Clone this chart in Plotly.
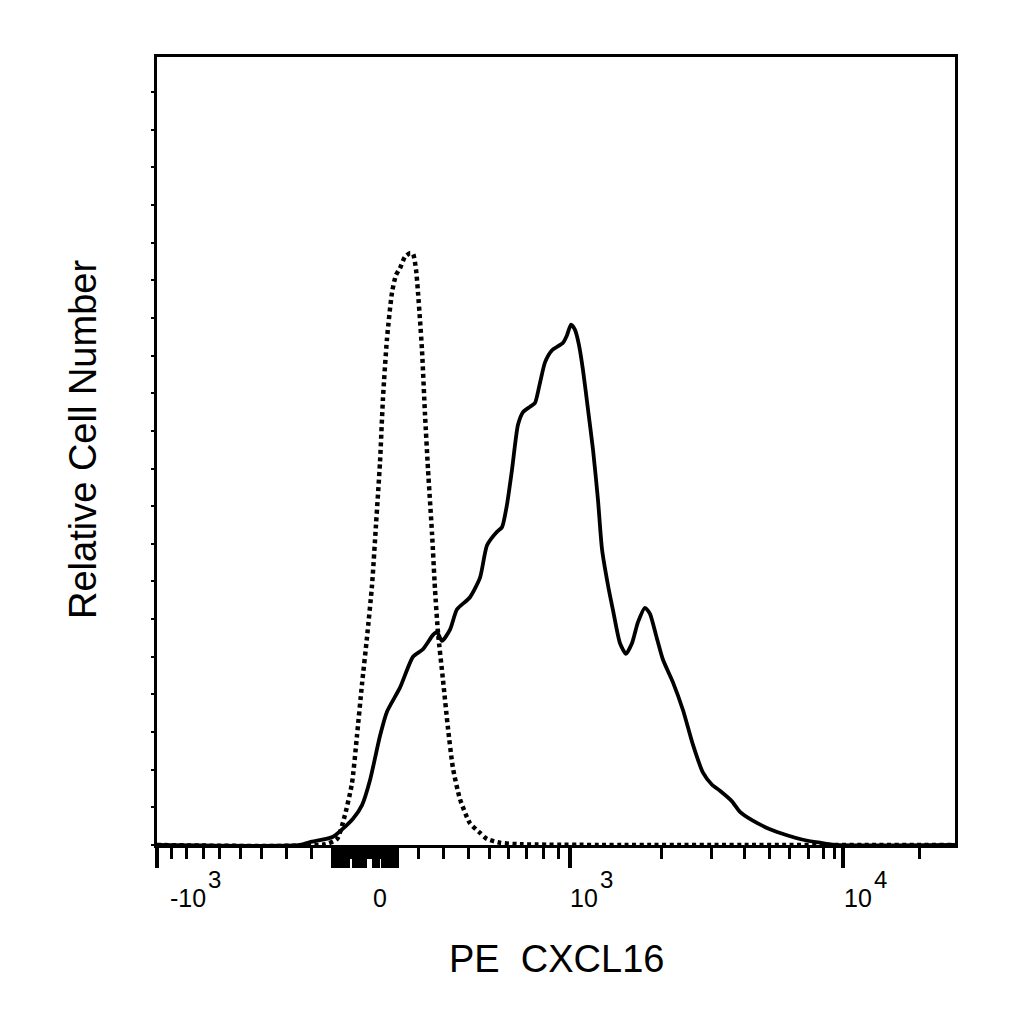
import plotly.graph_objects as go

# x is display channel (0-1024 over the biexponential PE axis), y is relative count
solid_x = [0, 183.5, 196.3, 225.8, 251.5, 263.1, 273.3, 286.2, 295.1, 311.8, 328.5,
           341.3, 354.2, 359.3, 365.7, 376.0, 385.0, 401.6, 414.5, 423.5, 436.3,
           442.7, 449.1, 455.5, 463.2, 469.7, 478.6, 485.0, 491.5, 497.9, 506.9,
           521.0, 526.1, 531.2, 536.4, 541.5, 546.6, 553.1, 559.5, 565.9, 571.0,
           578.7, 585.1, 594.1, 601.8, 609.5, 617.2, 626.2, 632.6, 640.3, 649.3,
           662.1, 675.0, 687.8, 700.6, 712.2, 722.4, 737.8, 748.1, 763.5, 786.6,
           808.4, 829.0, 850.8, 870.0, 1024]
solid_y = [0, 0, 0.4, 1.1, 3.5, 5.3, 8.6, 14.5, 17.7, 20.9, 25.0,
           26.0, 27.9, 28.3, 27.1, 28.6, 31.3, 32.9, 35.5, 39.8, 41.6,
           42.2, 45.2, 49.8, 55.8, 57.5, 58.2, 58.7, 61.4, 64.1, 65.7,
           66.7, 67.7, 69.1, 68.4, 66.4, 63.1, 57.8, 52.5, 45.8, 39.3,
           34.5, 31.2, 26.8, 25.4, 26.8, 29.6, 31.5, 30.7, 27.9, 24.6,
           21.6, 17.9, 13.3, 9.6, 8.0, 7.2, 5.8, 4.4, 3.3, 2.1,
           1.3, 0.7, 0.3, 0, 0]

dotted_x = [0, 215.6, 231.0, 241.2, 250.2, 256.6, 263.1, 269.5, 275.9, 281.0,
            286.2, 290.0, 295.1, 301.6, 306.7, 311.8, 318.2, 324.6, 328.5, 332.4,
            334.9, 337.5, 340.1, 343.9, 347.8, 352.9, 356.7, 360.6, 367.0, 373.4,
            379.8, 388.8, 401.6, 414.5, 423.5, 440.2, 465.8, 1024]
dotted_y = [0, 0.1, 0.8, 4.0, 8.2, 14.5, 21.4, 27.6, 34.5, 42.5,
            50.9, 59.4, 67.2, 73.4, 75.7, 76.6, 78.1, 78.6, 78.5, 76.4,
            73.4, 69.7, 65.6, 57.2, 49.8, 41.4, 34.0, 28.2, 21.9, 15.5,
            10.2, 6.1, 2.9, 1.6, 0.8, 0.3, 0.1, 0]

# decade labels: base text, exponent, and the channel where base ends / exponent starts
tick_base = ["-10", "10", "10"]
tick_exp = ["3", "3", "4"]
tick_label_pos = [63, 566, 917.5]
zero_label_pos = 286

major_ticks = [0, 530, 880]
minor_ticks = [18.9, 38.1, 59.4, 80.8, 106.5, 134.4, 166.4, 198.5,
               335.3, 367.4, 399.5, 427.3, 450.8, 474.4, 495.7, 514.9,
               648, 712, 754.5, 786.6, 811, 835.4, 854.7, 870, 979]
# crowded linear region around zero
block = [225.8 + 2.4 * i for i in range(35)]
block_long = [v for v in block if not (246 < v < 252 or 268 < v < 277 or 285 < v < 290)]

fig = go.Figure()
fig.add_trace(go.Scatter(x=dotted_x, y=dotted_y, mode="lines",
                         line=dict(color="black", width=4.5, dash="4px,3.5px",
                                   shape="spline", smoothing=0.6),
                         hoverinfo="none"))
fig.add_trace(go.Scatter(x=solid_x, y=solid_y, mode="lines",
                         line=dict(color="black", width=3.8, shape="spline",
                                   smoothing=0.6),
                         hoverinfo="none"))

# page body adds 8px, so margins are pulled in by that much
fig.update_layout(
    width=1024, height=1024,
    margin=dict(l=149, r=77, t=49, b=187),
    plot_bgcolor="white", paper_bgcolor="white",
    showlegend=False,
    font=dict(family="Liberation Sans, Arial", color="black"),
)
fig.update_xaxes(
    range=[0, 1024], showgrid=False, zeroline=False,
    showline=True, mirror=True, linecolor="black", linewidth=2.5,
    tickmode="array", tickvals=major_ticks + block_long, ticks="outside",
    ticklen=20, tickwidth=3.5, tickcolor="black", showticklabels=False,
    minor=dict(tickmode="array", tickvals=minor_ticks + block, ticks="outside",
               ticklen=11, tickwidth=2.5, tickcolor="black"),
)
fig.update_yaxes(
    range=[0, 104.65], showgrid=False, zeroline=False,
    showline=True, mirror=True, linecolor="black", linewidth=2.5,
    tickmode="linear", tick0=0, dtick=5, ticks="outside", ticklen=3,
    tickwidth=2, tickcolor="black", showticklabels=False,
)

# exponents at full size, as the cytometer software draws them
for base, exp, pos in zip(tick_base, tick_exp, tick_label_pos):
    fig.add_annotation(x=pos, y=-0.05, xref="x", yref="paper", text=base,
                       showarrow=False, yanchor="top", xanchor="right",
                       xshift=0, font=dict(size=25), borderpad=0, borderwidth=0)
    fig.add_annotation(x=pos, y=-0.05, xref="x", yref="paper", text=exp,
                       showarrow=False, yanchor="top", xanchor="left",
                       xshift=2, yshift=18, font=dict(size=24), borderpad=0,
                       borderwidth=0)
fig.add_annotation(x=zero_label_pos, y=-0.05, xref="x", yref="paper", text="0",
                   showarrow=False, yanchor="top", xanchor="center",
                   font=dict(size=25), borderpad=0, borderwidth=0)

fig.add_annotation(x=0.5, y=-0.115, xref="paper", yref="paper",
                   text="PE\u00a0 CXCL16", showarrow=False, yanchor="top",
                   font=dict(size=38))
fig.add_annotation(x=-0.093, y=0.515, xref="paper", yref="paper",
                   text="Relative Cell Number", showarrow=False, textangle=-90,
                   xanchor="center", yanchor="middle", font=dict(size=38))

fig.write_html("out.html")
